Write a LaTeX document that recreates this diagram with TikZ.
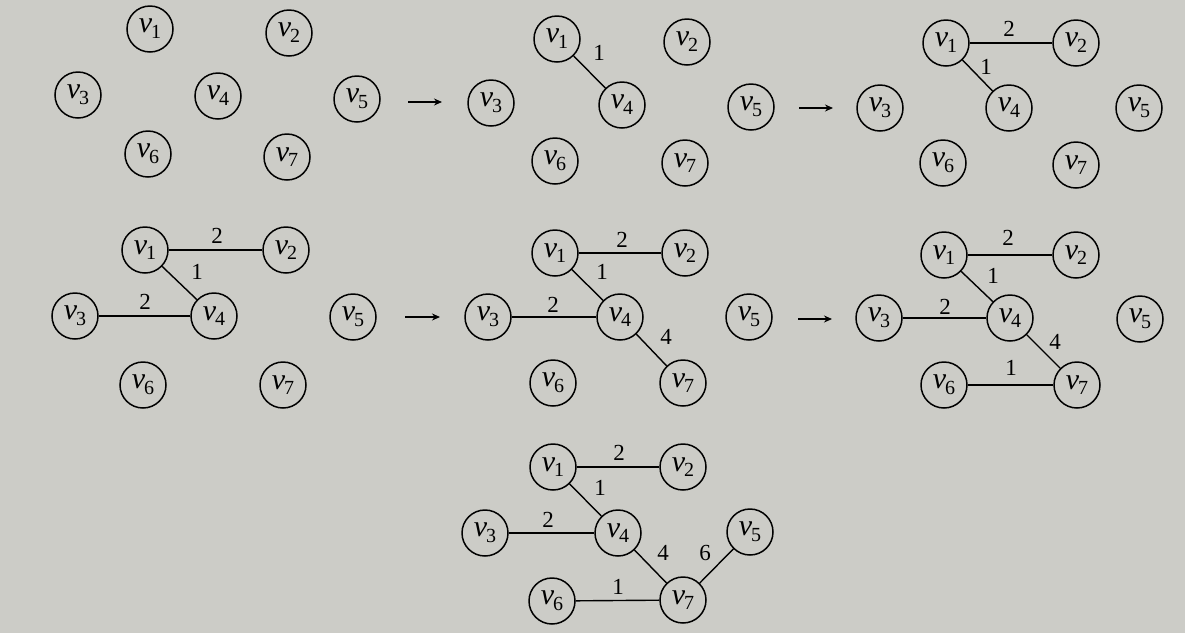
\documentclass[tikz,border=0pt]{standalone}
\usepackage{fontspec}
\setmainfont{Liberation Serif}
\usetikzlibrary{arrows.meta}
\newcommand{\vx}[1]{\textit{v}\kern-1pt\raisebox{-0.42ex}{\fontsize{20}{20}\selectfont #1}}
\tikzset{
  vert/.style={circle, draw, line width=1.5pt, minimum size=46pt, inner sep=0pt,
    font=\fontsize{30}{30}\selectfont},
  wedge/.style={line width=1.4pt},
  lbl/.style={inner sep=0pt, font=\fontsize{23}{23}\selectfont},
  stepar/.style={line width=1.5pt, -{Stealth[length=8pt,width=7pt]}}
}
\begin{document}
\begin{tikzpicture}[x=1pt,y=-1pt]
\fill[color={rgb,255:red,204;green,204;blue,199}] (0,0) rectangle (1185,633);
\useasboundingbox (0,0) rectangle (1185,633);
% panel 1
\node[vert] (a1) at (150,29) {\vx1};
\node[vert] (a2) at (289,33) {\vx2};
\node[vert] (a3) at (78,95) {\vx3};
\node[vert] (a4) at (218,96) {\vx4};
\node[vert] (a5) at (357,99) {\vx5};
\node[vert] (a6) at (148,154) {\vx6};
\node[vert] (a7) at (287,157) {\vx7};
\coordinate (ar1s) at (408,102);
\coordinate (ar1e) at (442,102);
\draw[stepar] (ar1s) -- (ar1e);
% panel 2
\node[vert] (b1) at (557,39) {\vx1};
\node[vert] (b2) at (687,42) {\vx2};
\node[vert] (b3) at (491,103) {\vx3};
\node[vert] (b4) at (622,105) {\vx4};
\node[vert] (b5) at (751,107) {\vx5};
\node[vert] (b6) at (555,161) {\vx6};
\node[vert] (b7) at (685,163) {\vx7};
\draw[wedge] (b1) -- (b4);
\node[lbl] (lb14) at (599,53) {1};
\coordinate (ar2s) at (799,108);
\coordinate (ar2e) at (833,108);
\draw[stepar] (ar2s) -- (ar2e);
% panel 3
\node[vert] (c1) at (946,43) {\vx1};
\node[vert] (c2) at (1076,43) {\vx2};
\node[vert] (c3) at (880,108) {\vx3};
\node[vert] (c4) at (1009,108) {\vx4};
\node[vert] (c5) at (1139,108) {\vx5};
\node[vert] (c6) at (943,163) {\vx6};
\node[vert] (c7) at (1076,165) {\vx7};
\draw[wedge] (c1) -- (c2);
\draw[wedge] (c1) -- (c4);
\node[lbl] (lc12) at (1009,29) {2};
\node[lbl] (lc14) at (986,67) {1};
% panel 4
\node[vert] (d1) at (145,250) {\vx1};
\node[vert] (d2) at (286,250) {\vx2};
\node[vert] (d3) at (75,316) {\vx3};
\node[vert] (d4) at (214,316) {\vx4};
\node[vert] (d5) at (353,317) {\vx5};
\node[vert] (d6) at (143,385) {\vx6};
\node[vert] (d7) at (283,385) {\vx7};
\draw[wedge] (d1) -- (d2);
\draw[wedge] (d1) -- (d4);
\draw[wedge] (d3) -- (d4);
\node[lbl] (ld12) at (217,236) {2};
\node[lbl] (ld14) at (197,272) {1};
\node[lbl] (ld34) at (145,302) {2};
\coordinate (ar3s) at (405,317);
\coordinate (ar3e) at (440,317);
\draw[stepar] (ar3s) -- (ar3e);
% panel 5
\node[vert] (e1) at (555,253) {\vx1};
\node[vert] (e2) at (685,253) {\vx2};
\node[vert] (e3) at (488,317) {\vx3};
\node[vert] (e4) at (620,317) {\vx4};
\node[vert] (e5) at (749,317) {\vx5};
\node[vert] (e6) at (553,383) {\vx6};
\node[vert] (e7) at (683,383) {\vx7};
\draw[wedge] (e1) -- (e2);
\draw[wedge] (e1) -- (e4);
\draw[wedge] (e3) -- (e4);
\draw[wedge] (e4) -- (e7);
\node[lbl] (le12) at (622,240) {2};
\node[lbl] (le14) at (602,272) {1};
\node[lbl] (le34) at (553,305) {2};
\node[lbl] (le47) at (666,337) {4};
\coordinate (ar4s) at (798,319);
\coordinate (ar4e) at (832,319);
\draw[stepar] (ar4s) -- (ar4e);
% panel 6
\node[vert] (f1) at (944,255) {\vx1};
\node[vert] (f2) at (1076,255) {\vx2};
\node[vert] (f3) at (879,318) {\vx3};
\node[vert] (f4) at (1010,318) {\vx4};
\node[vert] (f5) at (1140,319) {\vx5};
\node[vert] (f6) at (944,385) {\vx6};
\node[vert] (f7) at (1077,385) {\vx7};
\draw[wedge] (f1) -- (f2);
\draw[wedge] (f1) -- (f4);
\draw[wedge] (f3) -- (f4);
\draw[wedge] (f4) -- (f7);
\draw[wedge] (f6) -- (f7);
\node[lbl] (lf12) at (1008,238) {2};
\node[lbl] (lf14) at (993,276) {1};
\node[lbl] (lf34) at (945,307) {2};
\node[lbl] (lf47) at (1055,342) {4};
\node[lbl] (lf67) at (1011,368) {1};
% panel 7
\node[vert] (g1) at (553,467) {\vx1};
\node[vert] (g2) at (683,467) {\vx2};
\node[vert] (g3) at (485,533) {\vx3};
\node[vert] (g4) at (618,533) {\vx4};
\node[vert] (g5) at (750,532) {\vx5};
\node[vert] (g6) at (552,601) {\vx6};
\node[vert] (g7) at (683,600) {\vx7};
\draw[wedge] (g1) -- (g2);
\draw[wedge] (g1) -- (g4);
\draw[wedge] (g3) -- (g4);
\draw[wedge] (g4) -- (g7);
\draw[wedge] (g6) -- (g7);
\draw[wedge] (g7) -- (g5);
\node[lbl] (lg12) at (619,453) {2};
\node[lbl] (lg14) at (600,488) {1};
\node[lbl] (lg34) at (548,520) {2};
\node[lbl] (lg47) at (663,553) {4};
\node[lbl] (lg75) at (705,553) {6};
\node[lbl] (lg67) at (618,587) {1};
\end{tikzpicture}
\end{document}
